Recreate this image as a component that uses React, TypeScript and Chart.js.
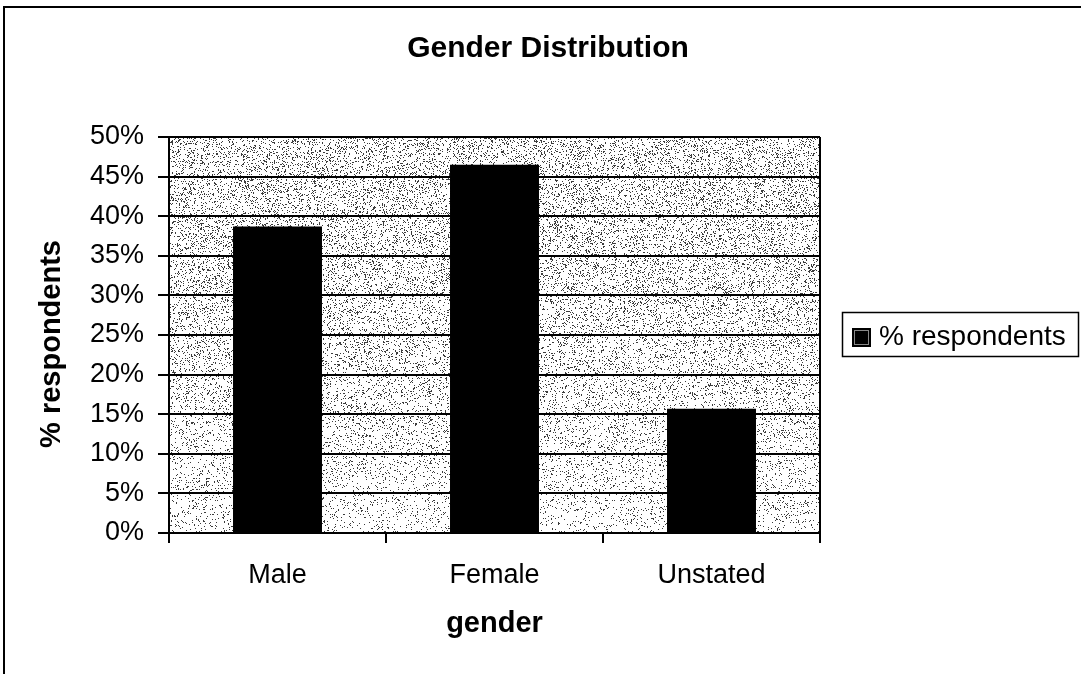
import { useEffect, useRef } from 'react';
import { Chart, registerables } from 'chart.js';

Chart.register(...registerables);

const TITLE = 'Gender Distribution';
const X_TITLE = 'gender';
const Y_TITLE = '% respondents';
const SERIES_LABEL = '% respondents';
const categories = ['Male', 'Female', 'Unstated'];
const values = [38.7, 46.5, 15.7];
const Y_MIN = 0;
const Y_MAX = 50;
const Y_STEP = 5;

const FONT = '"Liberation Sans", Arial, sans-serif';

function hash(x: number, y: number): number {
  let h = Math.imul(x, 374761393) + Math.imul(y, 668265263);
  h = Math.imul(h ^ (h >>> 13), 1274126177);
  h ^= h >>> 16;
  return (h >>> 0) / 4294967296;
}

const deco = {
  id: 'deco',
  beforeDraw(chart: any) {
    const { ctx, chartArea: a } = chart;
    const x0 = Math.round(a.left);
    const y0 = Math.round(a.top);
    const w = Math.round(a.right - a.left);
    const h = Math.round(a.bottom - a.top);
    const img = ctx.createImageData(w, h);
    const d = img.data;
    for (let y = 0; y < h; y++) {
      const t = y / h;
      const p = 0.17 - 0.1 * t * t;
      for (let x = 0; x < w; x++) {
        const i = (y * w + x) * 4;
        const v = hash(x, y) < p ? 60 : 255;
        d[i] = v;
        d[i + 1] = v;
        d[i + 2] = v;
        d[i + 3] = 255;
      }
    }
    ctx.putImageData(img, x0, y0);
  },
  afterDraw(chart: any) {
    const { ctx, chartArea: a } = chart;
    ctx.save();
    ctx.strokeStyle = '#000';
    ctx.fillStyle = '#000';

    // page frame (top + left)
    ctx.lineWidth = 2;
    ctx.beginPath();
    ctx.moveTo(3, 7);
    ctx.lineTo(1081, 7);
    ctx.moveTo(4, 7);
    ctx.lineTo(4, 674);
    ctx.stroke();

    // right plot border
    ctx.beginPath();
    ctx.moveTo(a.right, a.top);
    ctx.lineTo(a.right, a.bottom);
    ctx.stroke();

    // title
    ctx.font = `bold 30px ${FONT}`;
    ctx.textAlign = 'center';
    ctx.textBaseline = 'alphabetic';
    ctx.fillText(TITLE, 548, 57);

    // x title
    ctx.font = `bold 29px ${FONT}`;
    ctx.fillText(X_TITLE, (a.left + a.right) / 2, 632);

    // y title
    ctx.save();
    ctx.translate(60, 344);
    ctx.rotate(-Math.PI / 2);
    ctx.fillText(Y_TITLE, 0, 0);
    ctx.restore();

    // legend
    ctx.lineWidth = 1.5;
    ctx.strokeRect(842.5, 312.5, 236, 44);
    ctx.fillStyle = '#000';
    ctx.fillRect(852, 328, 19, 19);
    ctx.strokeStyle = '#888';
    ctx.lineWidth = 1;
    ctx.strokeRect(854.5, 330.5, 14, 14);
    ctx.fillStyle = '#000';
    ctx.font = `28px ${FONT}`;
    ctx.textAlign = 'left';
    ctx.fillText(chart.data.datasets[0].label, 879, 345);
    ctx.restore();
  },
};

export default function App() {
  const ref = useRef<HTMLCanvasElement>(null);
  useEffect(() => {
    if (!ref.current) return;
    const chart = new Chart(ref.current, {
      type: 'bar',
      data: {
        labels: categories,
        datasets: [
          {
            label: SERIES_LABEL,
            data: values,
            backgroundColor: '#000',
            borderWidth: 0,
            barPercentage: 0.41,
            categoryPercentage: 1,
          },
        ],
      },
      options: {
        animation: false,
        responsive: false,
        layout: { padding: { left: 0, right: 261, top: 137, bottom: 0 } },
        plugins: {
          legend: { display: false },
          title: { display: false },
          tooltip: { enabled: false },
        },
        scales: {
          x: {
            grid: {
              display: true,
              drawOnChartArea: false,
              drawTicks: true,
              tickLength: 10,
              color: '#000',
              lineWidth: 2,
              offset: true,
            },
            border: { display: true, color: '#000', width: 2 },
            ticks: { color: '#000', font: { size: 27, family: FONT }, padding: 16 },
            afterFit: (s: any) => {
              s.height = 141;
            },
          },
          y: {
            min: Y_MIN,
            max: Y_MAX,
            grid: { color: '#000', lineWidth: 2, tickLength: 11 },
            border: { display: true, color: '#000', width: 2 },
            ticks: {
              stepSize: Y_STEP,
              color: '#000',
              font: { size: 27, family: FONT },
              padding: 14,
              callback: (v: any) => `${v}%`,
            },
            afterFit: (s: any) => {
              s.width = 169;
            },
          },
        },
      },
      plugins: [deco],
    });
    return () => chart.destroy();
  }, []);
  return (
    <div style={{ position: 'absolute', left: 0, top: 0, width: 1081, height: 674, background: '#fff' }}>
      <canvas ref={ref} width={1081} height={674} style={{ display: 'block' }} />
    </div>
  );
}
